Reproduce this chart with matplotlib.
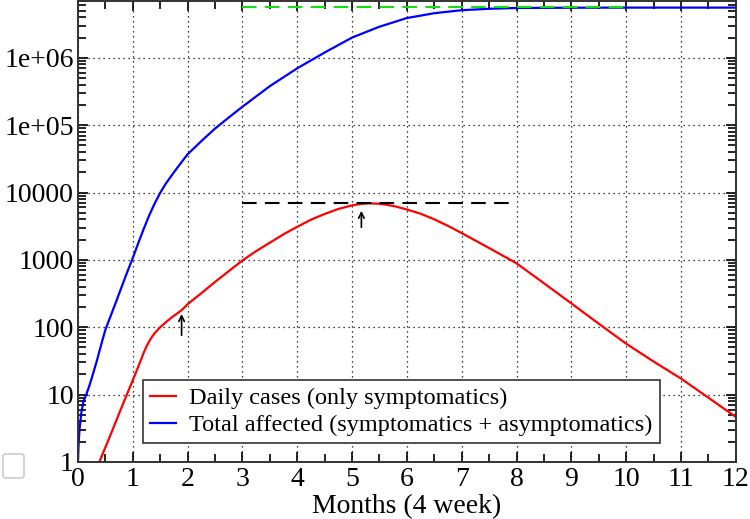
import matplotlib.pyplot as plt
import matplotlib.ticker as mticker
from matplotlib.patches import FancyBboxPatch

# daily cases (only symptomatics)
red_months = [0.39, 0.6, 0.8, 1.0, 1.1, 1.2, 1.25, 1.3, 1.35, 1.4, 1.5, 1.6, 1.7, 1.8, 1.9,
              2.0, 2.25, 2.5, 2.75, 3.0, 3.25, 3.5, 3.75, 4.0, 4.25, 4.5, 4.75, 5.0, 5.15,
              5.3, 5.45, 5.6, 5.8, 6.0, 6.25, 6.5, 6.75, 7.0, 7.5, 8.0, 8.5, 9.0, 9.5, 10.0,
              10.5, 11.0, 11.5, 12.0]
red_cases = [1, 2.6, 6.6, 16.4, 26, 42, 52, 62, 72, 82, 100, 118, 138, 158, 182,
             220, 320, 470, 680, 980, 1350, 1800, 2400, 3100, 3950, 4800, 5700, 6450, 6750,
             6900, 6850, 6650, 6200, 5600, 4850, 4000, 3200, 2500, 1500, 890, 450, 226, 113, 57,
             31, 17.3, 9, 4.66]

# total affected (symptomatics + asymptomatics)
blue_months = [0.0, 0.01, 0.03, 0.06, 0.1, 0.15, 0.2, 0.25, 0.3, 0.35, 0.4, 0.45, 0.5, 0.6,
               0.7, 0.8, 0.9, 1.0, 1.1, 1.2, 1.3, 1.4, 1.5, 1.6, 1.75, 1.9, 2.0, 2.25, 2.5,
               2.75, 3.0, 3.5, 4.0, 4.5, 5.0, 5.5, 6.0, 6.5, 7.0, 7.5, 8.0, 9.0, 10.0, 11.0, 12.0]
blue_total = [1, 1.8, 3.2, 5.3, 8, 10, 13, 17.5, 24, 33, 47, 66, 92, 150,
              245, 405, 665, 1070, 1780, 2900, 4600, 6900, 9900, 13500, 20000, 29000, 37000,
              58000, 89000, 130000, 188000, 380000, 700000, 1.2e6, 2.0e6, 2.9e6, 3.9e6, 4.6e6,
              5.1e6, 5.35e6, 5.5e6, 5.55e6, 5.57e6, 5.57e6, 5.57e6]

peak_level = 6900
peak_span = [3, 8]
total_level = 5.6e6
total_span = [3, 10]

# arrows (x, y_tail, y_head)
arrows = [(1.89, 69, 173), (5.17, 2770, 5890)]

yticks = [1, 10, 100, 1000, 10000, 1e5, 1e6]
ylabels = ['1', '10', '100', '1000', '10000', '1e+05', '1e+06']

plt.rcParams['font.family'] = ['Liberation Serif', 'DejaVu Serif']

fig = plt.figure(figsize=(7.5, 5.19), dpi=100)
ax = fig.add_axes([0.104, 0.11, 0.877, 0.889])

ax.plot(red_months, red_cases, color='red', linewidth=1.6, label='Daily cases (only symptomatics)')
ax.plot(blue_months, blue_total, color='blue', linewidth=1.6,
        label='Total affected (symptomatics + asymptomatics)')
ax.plot(peak_span, [peak_level, peak_level], color='black', linewidth=1.5, dashes=(7, 4))
ax.plot(total_span, [total_level, total_level], color='#11dd11', linewidth=1.5, dashes=(7, 4))

for x, y0, y1 in arrows:
    ax.annotate('', xy=(x, y1), xytext=(x, y0),
                arrowprops=dict(arrowstyle='->', color='black', lw=1.2))

ax.set_yscale('log')
ax.set_xlim(0, 12)
ax.set_ylim(1, 7.1e6)
ax.set_xticks(range(0, 13))
ax.xaxis.set_minor_locator(mticker.MultipleLocator(0.5))
ax.yaxis.set_major_locator(mticker.FixedLocator(yticks))
ax.set_yticklabels(ylabels)
ax.yaxis.set_minor_locator(mticker.LogLocator(base=10, subs=range(2, 10), numticks=20))
ax.yaxis.set_minor_formatter(mticker.NullFormatter())

ax.tick_params(which='both', direction='in', top=True, right=True, labelsize=20, width=1.2)
ax.tick_params(which='major', length=7, pad=3)
ax.tick_params(which='minor', length=6)
ax.tick_params(axis='x', pad=4)

ax.grid(True, which='major', color='black', linestyle=(0, (1, 3)), linewidth=0.9)
for s in ax.spines.values():
    s.set_linewidth(1.4)
    s.set_color('#333333')

ax.set_xlabel('Months (4 week)', fontsize=20, labelpad=1)

leg = ax.legend(loc='lower left', bbox_to_anchor=(0.099, 0.04), borderaxespad=0, fontsize=17.5,
                handlelength=1.05, handletextpad=0.55, borderpad=0.3, labelspacing=0.2,
                fancybox=False, framealpha=1, edgecolor='#333333')
leg.get_frame().set_linewidth(1.2)

# grey box at bottom-left
fig.patches.append(FancyBboxPatch((3 / 750, 41 / 519), 21 / 750, 24 / 519,
                                  boxstyle='round,pad=0,rounding_size=0.004',
                                  transform=fig.transFigure, facecolor='white',
                                  edgecolor='#cccccc', linewidth=1.2))

fig.savefig('out.png', dpi=100)
